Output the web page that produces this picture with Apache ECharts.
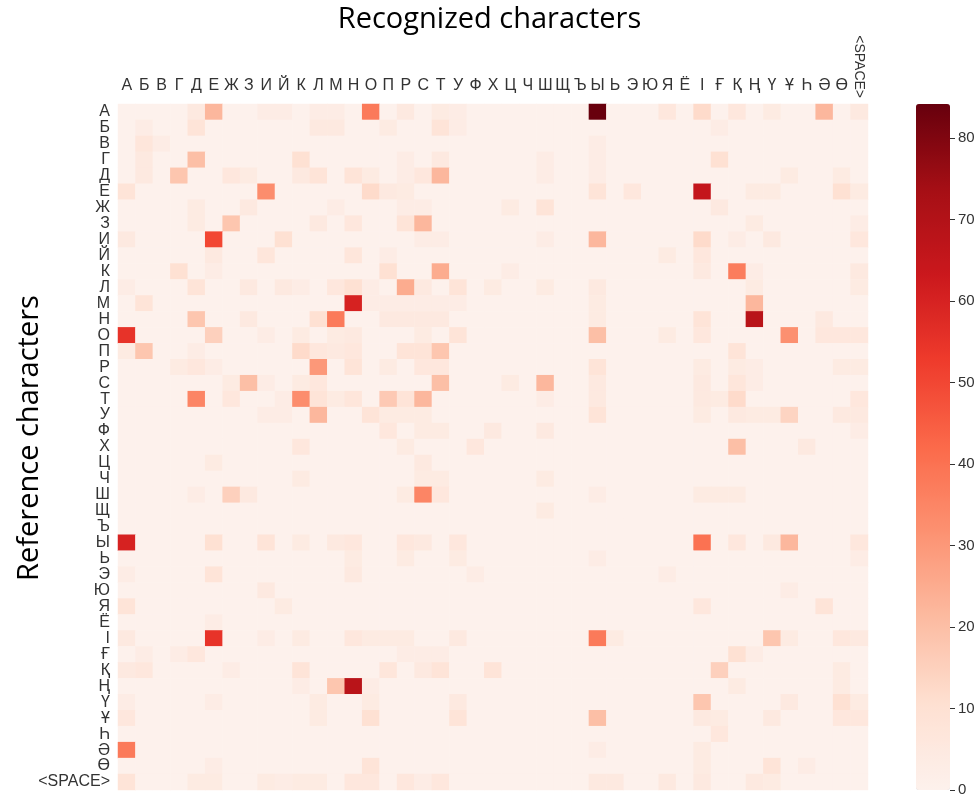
<!DOCTYPE html>
<html>
<head>
<meta charset="utf-8">
<script src="https://cdn.jsdelivr.net/npm/echarts@6/dist/echarts.min.js"></script>
<style>html,body{margin:0;padding:0;background:#fff}#c{width:979px;height:799px}</style>
</head>
<body>
<div id="c"></div>
<script>
// Character labels (recognized = columns, reference = rows)
const chars = ['А','Б','В','Г','Д','Е','Ж','З','И','Й','К','Л','М','Н','О','П','Р','С','Т','У','Ф','Х','Ц','Ч','Ш','Щ','Ъ','Ы','Ь','Э','Ю','Я','Ё','І','Ғ','Қ','Ң','Ү','Ұ','Һ','Ә','Ө','<SPACE>'];
const colorbarTicks = [0, 10, 20, 30, 40, 50, 60, 70, 80];
const colorbarMax = 84.2;

// Confusion counts: one row per reference character, one column per recognized character
const counts = [
/*А*/ [0,0,0,0,5,22,0,0,3,3, 0,3,3,0,38,0,5,0,4,3, 0,0,0,0,0,0,0,84,0,0, 0,6,0,12,0,6,0,4,0,0, 22,0,5],
/*Б*/ [0,3,0,0,8,0,0,0,0,0, 0,5,5,0,0,4,0,0,8,3, 0,0,0,0,0,0,0,0,0,0, 0,0,0,0,3,0,0,0,0,0, 0,0,0],
/*В*/ [0,7,3,0,0,0,0,0,0,0, 0,0,0,0,0,0,0,0,0,0, 0,0,0,0,0,0,0,3,0,0, 0,0,0,0,0,0,0,0,0,0, 0,0,0],
/*Г*/ [0,5,0,0,20,0,0,0,0,0, 10,0,0,0,0,0,3,0,5,0, 0,0,0,0,3,0,0,3,0,0, 0,0,0,0,10,0,0,0,0,0, 0,0,0],
/*Д*/ [0,5,0,18,0,0,6,4,0,0, 5,8,0,8,4,0,3,6,22,0, 0,0,0,0,3,0,0,3,0,0, 0,0,0,0,0,0,0,0,4,0, 0,4,0],
/*Е*/ [8,0,0,0,0,0,0,0,33,0, 0,0,0,0,12,5,4,0,0,0, 0,0,0,0,0,0,0,8,0,6, 0,0,0,65,0,0,4,4,0,0, 0,10,4],
/*Ж*/ [0,0,0,0,4,0,0,5,0,0, 0,0,3,0,0,0,3,3,0,0, 0,0,4,0,8,0,0,0,0,0, 0,0,0,0,5,0,0,0,0,0, 0,0,0],
/*З*/ [0,0,0,0,4,0,18,0,0,0, 0,5,0,6,0,0,8,22,0,0, 0,0,0,0,0,0,0,0,0,0, 0,0,0,0,0,0,4,0,0,0, 0,0,3],
/*И*/ [5,0,0,0,0,50,0,0,0,10, 0,0,0,0,0,0,0,3,3,0, 0,0,0,0,3,0,0,22,0,0, 0,0,0,12,0,3,0,5,0,0, 0,0,6],
/*Й*/ [0,0,0,0,0,5,0,0,7,0, 0,0,0,7,0,3,0,0,0,0, 0,0,0,0,0,0,0,0,0,0, 0,4,0,6,0,0,0,0,0,0, 0,0,0],
/*К*/ [0,0,0,10,0,3,0,0,0,0, 0,0,0,0,0,10,0,0,25,0, 0,0,3,0,0,0,0,0,0,0, 0,0,0,5,0,37,3,0,0,0, 0,0,5],
/*Л*/ [3,0,0,0,8,0,0,5,0,5, 3,0,6,10,3,0,25,5,0,8, 0,4,0,0,4,0,0,5,0,0, 0,0,0,0,0,0,4,0,0,0, 0,0,4],
/*М*/ [0,8,0,0,0,0,0,0,0,0, 0,0,0,60,3,3,3,3,3,3, 0,0,0,0,0,0,0,4,0,0, 0,0,0,0,0,0,22,0,0,0, 0,0,0],
/*Н*/ [0,0,0,0,18,0,0,5,0,0, 0,10,38,0,0,5,5,5,5,0, 0,0,0,0,0,0,0,4,0,0, 0,0,0,8,0,0,68,0,0,0, 5,0,0],
/*О*/ [55,0,0,0,0,15,0,0,3,0, 4,0,4,5,0,0,0,4,0,8, 0,0,0,0,0,0,0,20,0,0, 0,4,0,6,0,0,0,0,32,0, 6,6,6],
/*П*/ [4,18,0,0,3,0,0,0,0,0, 12,6,5,6,0,0,8,8,18,0, 0,0,0,0,0,0,0,0,0,0, 0,0,0,0,0,8,0,0,0,0, 0,0,0],
/*Р*/ [0,0,0,4,6,3,0,0,0,0, 0,30,0,8,0,4,0,6,6,0, 0,0,0,0,0,0,0,8,0,0, 0,0,0,4,0,4,3,0,0,0, 0,4,4],
/*С*/ [0,0,0,0,0,0,4,20,3,0, 4,6,0,0,0,0,0,0,20,0, 0,0,4,0,22,0,0,5,0,0, 0,0,0,5,0,7,3,0,0,0, 0,0,0],
/*Т*/ [0,0,0,0,35,0,6,0,0,3, 33,8,4,7,0,17,8,22,0,0, 0,0,0,0,3,0,0,5,0,0, 0,0,0,5,4,12,0,0,0,0, 0,0,6],
/*У*/ [0,0,0,0,0,0,0,0,3,3, 0,22,0,0,8,4,4,4,0,0, 0,0,0,0,0,0,0,8,0,0, 0,0,0,4,0,5,4,4,14,0, 0,5,5],
/*Ф*/ [0,0,0,0,0,0,0,0,0,0, 0,0,0,0,0,6,0,4,4,0, 0,5,0,0,5,0,0,0,0,0, 0,0,0,0,0,0,0,0,0,0, 0,0,3],
/*Х*/ [0,0,0,0,0,0,0,0,0,0, 6,0,0,0,0,0,4,0,0,0, 6,0,0,0,0,0,0,0,0,0, 0,0,0,0,0,20,0,0,0,5, 0,0,0],
/*Ц*/ [0,0,0,0,0,4,0,0,0,0, 0,0,0,0,0,0,0,5,0,0, 0,0,0,0,0,0,0,0,0,0, 0,0,0,0,0,0,0,0,0,0, 0,0,0],
/*Ч*/ [0,0,0,0,0,0,0,0,0,0, 4,0,0,0,0,0,0,4,4,0, 0,0,0,0,4,0,0,0,0,0, 0,0,0,0,0,0,0,0,0,0, 0,0,0],
/*Ш*/ [0,0,0,0,3,0,15,5,0,0, 0,0,0,0,0,0,4,35,6,0, 0,0,0,0,0,0,0,3,0,0, 0,0,0,4,4,4,0,0,0,0, 0,0,0],
/*Щ*/ [0,0,0,0,0,0,0,0,0,0, 0,0,0,0,0,0,0,0,0,0, 0,0,0,0,4,0,0,0,0,0, 0,0,0,0,0,0,0,0,0,0, 0,0,0],
/*Ъ*/ [0,0,0,0,0,0,0,0,0,0, 0,0,0,0,0,0,0,0,0,0, 0,0,0,0,0,0,0,0,0,0, 0,0,0,0,0,0,0,0,0,0, 0,0,0],
/*Ы*/ [60,0,0,0,0,10,0,0,8,0, 4,0,5,6,0,0,6,5,0,6, 0,0,0,0,0,0,0,0,0,0, 0,0,0,40,0,6,0,5,22,0, 0,0,6],
/*Ь*/ [0,0,0,0,0,0,0,0,0,0, 0,0,0,4,0,0,4,0,0,4, 0,0,0,0,0,0,0,3,0,0, 0,0,0,0,0,0,0,0,0,0, 0,0,3],
/*Э*/ [3,0,0,0,0,8,0,0,0,0, 0,0,0,5,0,0,0,0,0,0, 3,0,0,0,0,0,0,0,0,0, 0,3,0,0,0,0,0,0,0,0, 0,0,0],
/*Ю*/ [0,0,0,0,0,0,0,0,5,0, 0,0,0,0,0,0,0,0,0,0, 0,0,0,0,0,0,0,0,0,0, 0,0,0,0,0,0,0,0,3,0, 0,0,0],
/*Я*/ [8,0,0,0,0,0,0,0,0,4, 0,0,0,0,0,0,0,0,0,0, 0,0,0,0,0,0,0,0,0,0, 0,0,0,6,0,0,0,0,0,0, 8,0,0],
/*Ё*/ [0,0,0,0,0,3,0,0,0,0, 0,0,0,0,0,0,0,0,0,0, 0,0,0,0,0,0,0,0,0,0, 0,0,0,0,0,0,0,0,0,0, 0,0,0],
/*І*/ [5,0,0,0,0,55,0,0,3,0, 4,0,0,6,4,4,4,0,0,5, 0,0,0,0,0,0,0,38,4,0, 0,0,0,0,0,0,0,18,4,0, 0,6,5],
/*Ғ*/ [0,3,0,3,6,0,0,0,0,0, 0,0,0,0,0,0,3,3,3,0, 0,0,0,0,0,0,0,0,0,0, 0,0,0,0,0,10,3,0,0,0, 0,0,0],
/*Қ*/ [5,6,0,0,0,0,3,0,0,0, 8,0,0,0,0,7,0,5,8,0, 0,8,0,0,0,0,0,0,0,0, 0,0,0,0,15,0,0,0,0,0, 0,4,0],
/*Ң*/ [0,0,0,0,0,0,0,0,0,0, 3,0,18,68,3,0,0,0,0,0, 0,0,0,0,0,0,0,0,0,0, 0,0,0,0,0,4,0,0,0,0, 0,4,0],
/*Ү*/ [3,0,0,0,0,3,0,0,0,0, 0,4,0,0,4,0,0,0,0,5, 0,0,0,0,0,0,0,0,0,0, 0,0,0,18,0,0,0,0,5,0, 0,10,4],
/*Ұ*/ [6,0,0,0,0,0,0,0,0,0, 0,4,0,0,10,0,0,0,0,8, 0,0,0,0,0,0,0,20,0,0, 0,0,0,5,4,0,0,5,0,0, 0,6,6],
/*Һ*/ [0,0,0,0,0,0,0,0,0,0, 0,0,0,0,0,0,0,0,0,0, 0,0,0,0,0,0,0,0,0,0, 0,0,0,0,6,0,0,0,0,0, 0,0,0],
/*Ә*/ [38,0,0,0,0,0,0,0,0,0, 0,0,0,0,0,0,0,0,0,0, 0,0,0,0,0,0,0,3,0,0, 0,0,0,4,0,0,0,0,0,0, 0,0,0],
/*Ө*/ [0,0,0,0,0,3,0,0,0,0, 0,0,0,0,8,0,0,0,0,0, 0,0,0,0,0,0,0,0,0,0, 0,0,0,4,0,0,0,8,0,3, 0,0,0],
/*SP*/[8,0,0,0,4,4,0,0,4,3, 4,4,0,6,6,0,6,3,6,0, 0,0,0,0,0,0,0,5,5,0, 0,5,0,5,0,0,5,4,0,0, 0,0,0]
];

const heatData = [];
counts.forEach((row, r) => row.forEach((v, c) => heatData.push([c, r, v])));

const reds = ['#fdf1ec','#fee0d2','#fcbba1','#fc9272','#fb6a4a','#ef3b2c','#cb181d','#a50f15','#67000d'];
const labelFont = "'Liberation Sans', Arial, sans-serif";

// colorbar geometry (bar spans 0..colorbarMax; tick axis spans 0..last tick)
const cbTop = 104, cbHeight = 686, cbLeft = 916, cbWidth = 34;
const lastTick = colorbarTicks[colorbarTicks.length - 1];
const axisTop = cbTop + cbHeight * (colorbarMax - lastTick) / colorbarMax;

const chart = echarts.init(document.getElementById('c'), null, {renderer: 'canvas'});
chart.setOption({
  animation: false,
  backgroundColor: '#fff',
  title: {
    text: 'Recognized characters', left: 'center', top: 0,
    textStyle: {fontFamily: "'Open Sans', sans-serif", fontSize: 29, fontWeight: 'normal', color: '#000'}
  },
  graphic: [{
    type: 'text', x: 30, y: 438, rotation: Math.PI / 2,
    style: {text: 'Reference characters', font: "29px 'Open Sans', sans-serif", fill: '#000', align: 'center', verticalAlign: 'middle'}
  }],
  grid: [
    {left: 118, top: 104, width: 750, height: 686, containLabel: false, outerBoundsMode: 'none'},
    {left: cbLeft, top: axisTop, width: cbWidth, height: cbTop + cbHeight - axisTop, containLabel: false, outerBoundsMode: 'none'}
  ],
  xAxis: [
    {type: 'category', data: chars, position: 'top', gridIndex: 0,
     axisLine: {show: false}, axisTick: {show: false}, splitLine: {show: false},
     axisLabel: {interval: 0, fontFamily: labelFont, fontSize: 16, color: '#333', margin: 10,
                 formatter: v => v === '<SPACE>' ? '' : v}},
    {type: 'category', data: chars, position: 'top', gridIndex: 0,
     axisLine: {show: false}, axisTick: {show: false}, splitLine: {show: false},
     axisLabel: {interval: 0, rotate: 90, fontFamily: labelFont, fontSize: 14, color: '#333', margin: 6,
                 formatter: v => v === '<SPACE>' ? v : ''}},
    {type: 'value', gridIndex: 1, show: false, min: 0, max: 1}
  ],
  yAxis: [
    {type: 'category', data: chars, inverse: true, gridIndex: 0,
     axisLine: {show: false}, axisTick: {show: false}, splitLine: {show: false},
     axisLabel: {interval: 0, fontFamily: labelFont, fontSize: 16, color: '#333', margin: 8}},
    {type: 'value', gridIndex: 1, position: 'right', min: 0, max: lastTick, interval: 10, z: 10,
     axisLine: {show: false, onZero: false}, splitLine: {show: false},
     axisTick: {show: true, inside: false, length: 5, lineStyle: {color: '#333', width: 1}},
     axisLabel: {fontFamily: labelFont, fontSize: 15, color: '#333', margin: 8}}
  ],
  visualMap: {
    type: 'continuous', min: 0, max: colorbarMax, seriesIndex: 0, z: 1,
    calculable: false, hoverLink: false, left: cbLeft, top: cbTop, itemWidth: cbWidth, itemHeight: cbHeight,
    padding: 0, showLabel: false, itemGap: 0,
    inRange: {color: reds}
  },
  series: [{
    type: 'heatmap', xAxisIndex: 0, yAxisIndex: 0, data: heatData,
    itemStyle: {borderWidth: 0}, emphasis: {disabled: true}
  }]
});
</script>
</body>
</html>
